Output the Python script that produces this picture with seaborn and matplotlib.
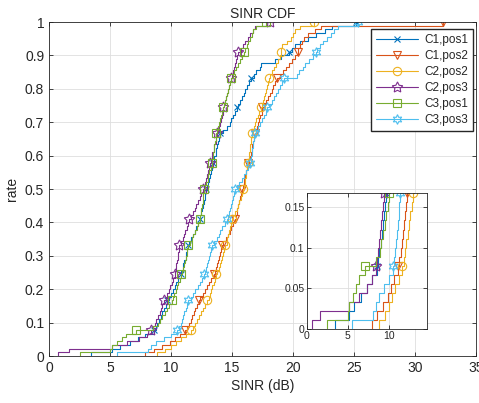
import matplotlib
matplotlib.use("Agg")
import matplotlib.pyplot as plt
import seaborn as sns

# series names, same order as the legend
labels = ["C1,pos1", "C1,pos2", "C2,pos2", "C2,pos3", "C3,pos1", "C3,pos3"]

# SINR samples (dB), 90 per series
c1_pos1 = [3.45, 5.2, 5.8, 6.6, 7.3, 7.9, 8.6,
           8.75, 8.85, 9.0, 9.15, 9.3, 9.4, 9.55, 9.7,
           9.85, 10.0, 10.15, 10.3, 10.45, 10.6, 10.8,
           10.85, 10.95, 11.0, 11.1, 11.2, 11.25, 11.3, 11.4,
           11.5, 11.65, 11.8, 11.95, 12.05, 12.2, 12.35,
           12.4, 12.5, 12.55, 12.6, 12.7, 12.75, 12.8, 12.9,
           12.95, 13.05, 13.1, 13.2, 13.3, 13.35, 13.45,
           13.5, 13.55, 13.65, 13.7, 13.8, 13.85, 13.9, 14.0,
           14.3, 14.55, 14.8, 14.95, 15.1, 15.25, 15.38,
           15.5, 15.65, 15.8, 15.95, 16.1, 16.25, 16.4, 16.56,
           16.8, 17.0, 17.3, 17.4, 18.5, 19.0, 19.7,
           19.9, 20.2, 20.6, 21.2, 21.9, 22.6, 23.2, 25.2]

c1_pos2 = [7.9, 8.6, 9.3, 9.9, 10.3, 10.7, 11.15,
           11.3, 11.45, 11.6, 11.75, 11.85, 11.95, 12.1, 12.27,
           12.4, 12.6, 12.8, 12.95, 13.1, 13.3, 13.5,
           13.6, 13.68, 13.75, 13.85, 13.92, 14.0, 14.08, 14.15,
           14.3, 14.5, 14.65, 14.8, 14.95, 15.1, 15.25,
           15.32, 15.38, 15.45, 15.52, 15.58, 15.65, 15.72, 15.8,
           15.88, 15.95, 16.02, 16.1, 16.17, 16.24, 16.3,
           16.38, 16.45, 16.52, 16.6, 16.67, 16.75, 16.82, 16.9,
           16.98, 17.06, 17.15, 17.25, 17.33, 17.42, 17.5,
           17.65, 17.8, 17.95, 18.1, 18.25, 18.4, 18.52, 18.66,
           18.9, 19.15, 19.4, 19.65, 19.9, 20.15, 20.4,
           20.45, 20.55, 20.7, 20.9, 21.2, 21.8, 22.3, 32.3]

c2_pos2 = [8.85, 9.5, 10.0, 10.4, 10.8, 11.2, 11.65,
           11.8, 11.95, 12.1, 12.3, 12.45, 12.6, 12.8, 12.98,
           13.1, 13.2, 13.3, 13.4, 13.5, 13.6, 13.7,
           13.8, 13.9, 14.0, 14.1, 14.2, 14.3, 14.38, 14.45,
           14.55, 14.62, 14.7, 14.78, 14.85, 14.92, 15.0,
           15.1, 15.25, 15.4, 15.5, 15.6, 15.7, 15.8, 15.93,
           15.98, 16.03, 16.08, 16.13, 16.18, 16.24, 16.3,
           16.34, 16.38, 16.42, 16.46, 16.5, 16.53, 16.56, 16.6,
           16.7, 16.8, 16.9, 17.0, 17.1, 17.2, 17.35,
           17.45, 17.55, 17.6, 17.7, 17.78, 17.85, 17.95, 18.03,
           18.15, 18.3, 18.45, 18.6, 18.75, 18.9, 19.0,
           19.05, 19.1, 19.5, 19.8, 20.0, 20.2, 20.6, 21.7]

c2_pos3 = [0.7, 1.6, 5.2, 6.4, 7.4, 8.0, 8.4,
           8.55, 8.7, 8.8, 8.95, 9.1, 9.2, 9.3, 9.45,
           9.6, 9.7, 9.85, 9.95, 10.1, 10.2, 10.3,
           10.35, 10.4, 10.45, 10.5, 10.55, 10.6, 10.62, 10.65,
           10.8, 10.95, 11.05, 11.15, 11.3, 11.4, 11.5,
           11.65, 11.8, 11.95, 12.05, 12.2, 12.35, 12.5, 12.6,
           12.7, 12.8, 12.9, 12.95, 13.05, 13.1, 13.2,
           13.25, 13.35, 13.4, 13.5, 13.55, 13.65, 13.7, 13.8,
           13.85, 13.95, 14.0, 14.1, 14.15, 14.25, 14.3,
           14.35, 14.45, 14.5, 14.6, 14.65, 14.75, 14.8, 14.9,
           15.0, 15.05, 15.15, 15.25, 15.3, 15.4, 15.5,
           15.7, 15.9, 16.1, 16.3, 16.5, 16.7, 16.9, 18.15]

c3_pos1 = [2.5, 5.0, 5.2, 5.6, 6.0, 6.35, 7.15,
           8.5, 8.9, 9.1, 9.3, 9.5, 9.7, 9.85, 10.05,
           10.15, 10.25, 10.4, 10.5, 10.6, 10.75, 10.85,
           10.9, 11.0, 11.05, 11.15, 11.2, 11.3, 11.35, 11.42,
           11.55, 11.7, 11.8, 11.95, 12.1, 12.2, 12.35,
           12.4, 12.45, 12.5, 12.55, 12.6, 12.62, 12.65, 12.7,
           12.8, 12.9, 13.0, 13.05, 13.15, 13.25, 13.33,
           13.38, 13.42, 13.47, 13.5, 13.55, 13.6, 13.65, 13.69,
           13.75, 13.85, 13.95, 14.05, 14.1, 14.2, 14.3,
           14.35, 14.42, 14.5, 14.58, 14.65, 14.72, 14.8, 14.88,
           15.05, 15.2, 15.35, 15.5, 15.65, 15.8, 16.0,
           16.1, 16.2, 16.3, 16.45, 16.6, 16.75, 16.95, 17.8]

c3_pos3 = [5.55, 8.1, 8.4, 8.8, 9.4, 10.0, 10.5,
           10.65, 10.8, 10.9, 11.0, 11.1, 11.2, 11.3, 11.42,
           11.6, 11.8, 12.0, 12.2, 12.35, 12.55, 12.7,
           12.78, 12.85, 12.95, 13.05, 13.12, 13.2, 13.3, 13.4,
           13.55, 13.75, 13.9, 14.05, 14.2, 14.4, 14.56,
           14.65, 14.72, 14.8, 14.9, 14.98, 15.05, 15.15, 15.25,
           15.4, 15.6, 15.8, 16.0, 16.15, 16.3, 16.5,
           16.55, 16.58, 16.62, 16.66, 16.7, 16.75, 16.8, 16.85,
           17.0, 17.15, 17.3, 17.45, 17.6, 17.75, 17.9,
           18.05, 18.25, 18.45, 18.6, 18.8, 18.95, 19.1, 19.25,
           20.3, 20.5, 20.8, 21.0, 21.3, 21.6, 21.9,
           22.0, 22.2, 22.5, 22.8, 23.1, 23.4, 23.7, 25.35]

series = [c1_pos1, c1_pos2, c2_pos2, c2_pos3, c3_pos1, c3_pos3]

# matlab default colour order
colors = ["#0072BD", "#D95319", "#EDB120", "#7E2F8E", "#77AC30", "#4DBEEE"]
markers = ["x", "v", "o", (5, 1, 0), "s", (6, 1, 0)]
msizes = [5, 6, 6, 8, 5.5, 7]
# which samples get a marker (index 0 is seaborn's -inf start point)
mark_idx = [7, 15, 22, 30, 37, 45, 52, 60, 67, 75, 82, 90]

sns.set_style("ticks")
plt.rcParams["font.family"] = ["Liberation Sans", "DejaVu Sans"]
plt.rcParams["text.color"] = "#262626"
plt.rcParams["axes.labelcolor"] = "#262626"
plt.rcParams["xtick.color"] = "#262626"
plt.rcParams["ytick.color"] = "#262626"

fig = plt.figure(figsize=(4.79, 4.03), dpi=100)
ax = fig.add_axes([0.1023, 0.1166, 0.8914, 0.8288])
ax_in = fig.add_axes([0.6403, 0.1836, 0.2518, 0.3367])


def draw_cdfs(axis, legend_labels=True):
    for vals, name, col, mk, ms in zip(series, labels, colors, markers, msizes):
        sns.ecdfplot(x=vals, ax=axis, color=col, linewidth=0.8,
                     marker=mk, markersize=ms, markevery=mark_idx,
                     markerfacecolor="none", markeredgecolor=col,
                     markeredgewidth=0.8,
                     label=name if legend_labels else None)


def style_axes(axis, fs):
    axis.set_axisbelow(True)
    axis.grid(True, color="#dedede", linewidth=0.6)
    axis.tick_params(direction="in", top=True, right=True, labelsize=fs,
                     length=3, width=0.6)
    for sp in axis.spines.values():
        sp.set_visible(True)
        sp.set_color("#262626")
        sp.set_linewidth(0.6)


# main plot
draw_cdfs(ax)
ax.set_xlim(0, 35)
ax.set_ylim(0, 1)
ax.set_xticks(range(0, 36, 5))
ax.set_yticks([i / 10 for i in range(11)])
ax.set_yticklabels(["0", "0.1", "0.2", "0.3", "0.4", "0.5", "0.6", "0.7",
                    "0.8", "0.9", "1"])
style_axes(ax, 10)
ax.set_xlabel("SINR (dB)", fontsize=10, labelpad=3)
ax.set_ylabel("rate", fontsize=10, labelpad=4)
ax.set_title("SINR CDF", fontsize=10, pad=3)
ax.legend(loc="upper right", bbox_to_anchor=(0.993, 0.979), borderaxespad=0,
          fancybox=False, edgecolor="#262626", framealpha=1, fontsize=8.5,
          handlelength=3.6, labelspacing=0.35, borderpad=0.4,
          handletextpad=0.5)

# zoomed inset of the lower tail
draw_cdfs(ax_in, legend_labels=False)
ax_in.set_xlim(0, 14.7)
ax_in.set_ylim(0, 0.1667)
ax_in.set_xticks([0, 5, 10])
ax_in.set_yticks([0, 0.05, 0.1, 0.15])
ax_in.set_yticklabels(["0", "0.05", "0.1", "0.15"])
style_axes(ax_in, 7.5)
ax_in.set_xlabel("")
ax_in.set_ylabel("")
ax_in.tick_params(pad=1.5)

fig.savefig("out.png", dpi=100)
